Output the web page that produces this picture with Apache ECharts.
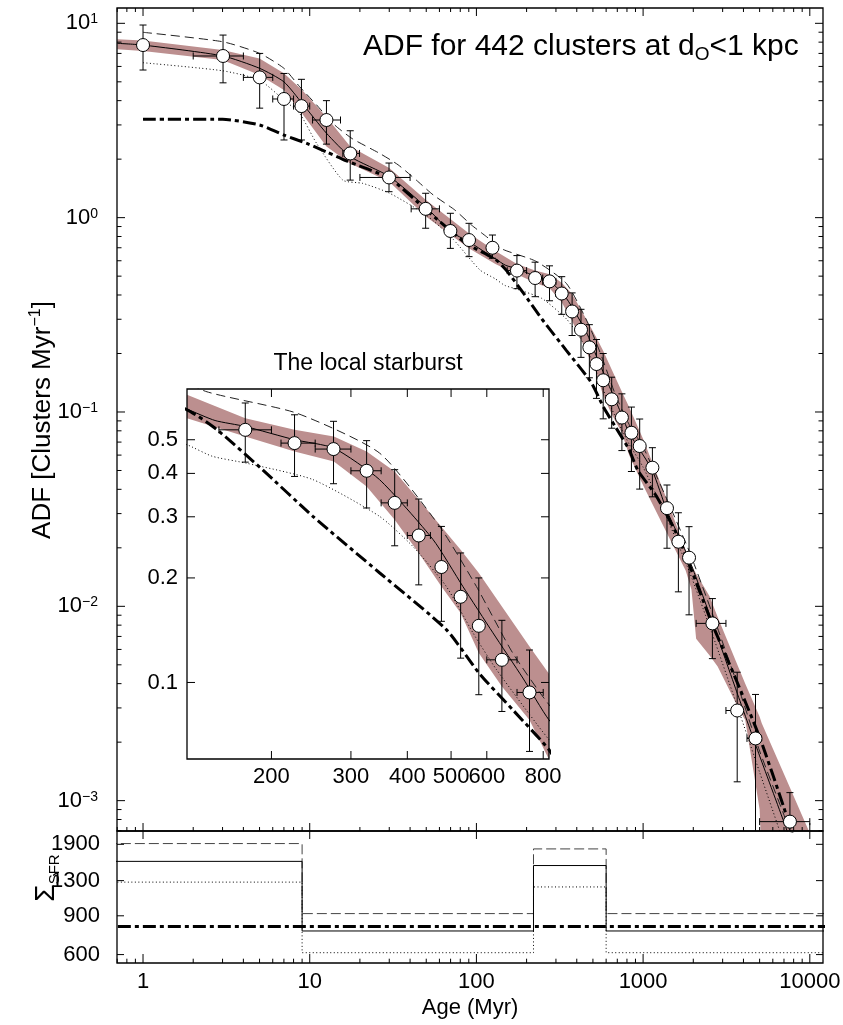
<!DOCTYPE html>
<html>
<head>
<meta charset="UTF-8">
<title>ADF for 442 clusters</title>
<script src="https://cdn.jsdelivr.net/npm/echarts@6/dist/echarts.min.js"></script>
<style>
  html, body { margin: 0; padding: 0; background: #fff; }
  #chart { width: 843px; height: 1025px; }
</style>
</head>
<body>
<div id="chart"></div>
<script>
var FONT = "'Liberation Sans', Arial, sans-serif";
var BAND = '#bc8f8f';

// axis ranges
var X_MIN = 0.698, X_MAX = 12000;
var Y_MIN = 6.98e-4, Y_MAX = 11.99;
var S_MIN = 549.5, S_MAX = 2184;
var IX_MIN = 130, IX_MAX = 824;
var IY_MIN = 0.0602, IY_MAX = 0.70;

// tick values
var xMajor = [1, 10, 100, 1000, 10000];
var yMajor = [0.001, 0.01, 0.1, 1, 10];
var sfrTicks = [600, 900, 1300, 1900];
var insetXTicks = [200, 300, 400, 500, 600, 800];
var insetYTicks = [0.1, 0.2, 0.3, 0.4, 0.5];

// data points (open circles) with error bars; 0 = no horizontal bar
var ptAge = [1.0, 3.02, 5.01, 7.01, 8.92, 12.6, 17.5, 29.9, 49.6, 69.8, 90.3, 124.8, 175, 225, 274.5, 325, 375, 424, 476, 525, 576, 648, 746, 851, 954, 1137, 1391, 1628, 1886, 2604, 3668, 4724, 7600];
var ptVal = [7.73, 6.79, 5.27, 4.08, 3.75, 3.18, 2.14, 1.61, 1.11, 0.854, 0.767, 0.70, 0.534, 0.489, 0.470, 0.407, 0.329, 0.265, 0.215, 0.1765, 0.1456, 0.1162, 0.0936, 0.0782, 0.0668, 0.0517, 0.0320, 0.0215, 0.0178, 0.00817, 0.00291, 0.00209, 0.00078];
var ptLo = [5.75, 4.94, 3.66, 2.51, 2.51, 2.39, 1.56, 1.36, 0.882, 0.695, 0.63, 0.618, 0.431, 0.392, 0.3735, 0.318, 0.2475, 0.191, 0.150, 0.1175, 0.0922, 0.0825, 0.0633, 0.0494, 0.0401, 0.0366, 0.0199, 0.01187, 0.00904, 0.00538, 0.00125, 0.0004, 0.0004];
var ptHi = [9.8, 8.7, 7.0, 5.52, 5.15, 4.0, 2.8, 1.91, 1.335, 1.053, 0.935, 0.814, 0.638, 0.590, 0.565, 0.497, 0.410, 0.3375, 0.2814, 0.236, 0.2, 0.151, 0.124, 0.106, 0.092, 0.0655, 0.0421, 0.0303, 0.0257, 0.01096, 0.00458, 0.00352, 0.0011];
var binLo = [0, 2.0, 4.0, 6.0, 8.0, 10.4, 15.8, 20, 40.6, 0, 0, 0, 153, 210, 250, 300, 350, 400, 0, 0, 0, 600, 700, 0, 0, 0, 0, 0, 0, 2080, 3140, 4200, 5000];
var binHi = [0, 4.0, 6.0, 8.0, 10.0, 15.3, 19.9, 40, 60, 0, 0, 0, 200, 250, 300, 350, 400, 450, 0, 0, 0, 700, 800, 0, 0, 0, 0, 0, 0, 3140, 3940, 5100, 10000];

// model curves
var solidAge = [0.7, 1, 3, 5, 7, 9, 12.6, 17.5, 30, 50, 70, 90, 130, 150, 175, 225, 275, 347, 456, 531, 619, 721, 824, 954, 1137, 1391, 1886, 2600, 3700, 5000, 7300, 9500];
var solidVal = [7.89, 7.73, 6.8, 5.87, 5.0, 3.88, 2.72, 2.06, 1.63, 1.13, 0.847, 0.752, 0.613, 0.568, 0.546, 0.5, 0.473, 0.384, 0.258, 0.189, 0.139, 0.103, 0.078, 0.064, 0.05, 0.031, 0.0175, 0.0083, 0.0035, 0.0017, 0.0007, 0.00035];
var dashedAge = [1, 3, 5, 7, 8.7, 11, 14.1, 18, 26.3, 33.9, 43.6, 55, 74.2, 93.3, 115, 143, 227, 347, 472, 569, 685, 824, 1000, 1400, 1900, 2600, 3700, 5000, 7600, 9500];
var dashedVal = [8.99, 8.04, 7.01, 5.87, 4.72, 3.8, 3.0, 2.55, 2.14, 1.87, 1.56, 1.31, 1.095, 0.917, 0.798, 0.689, 0.597, 0.458, 0.281, 0.189, 0.1215, 0.0863, 0.066, 0.035, 0.019, 0.0092, 0.0039, 0.0018, 0.0007, 0.0004];
var dottedAge = [1, 3, 5, 7, 8.7, 11, 15.8, 20.9, 30.2, 50.1, 72.4, 105, 130, 148, 176, 247, 347, 412, 488, 559, 630, 824, 1000, 1400, 1900, 2600, 3700, 5000, 7000, 9000];
var dottedVal = [6.27, 5.7, 5.1, 4.03, 3.44, 2.41, 1.56, 1.50, 1.335, 1.03, 0.775, 0.538, 0.484, 0.448, 0.428, 0.384, 0.301, 0.246, 0.189, 0.139, 0.109, 0.0684, 0.052, 0.028, 0.015, 0.0072, 0.003, 0.0014, 0.0006, 0.0003];
var dashDotAge = [1, 3, 5, 7, 9.6, 12.6, 16.6, 30.2, 50.1, 86.7, 130, 150.8, 191, 247, 347, 488, 578, 685, 824, 931, 1200, 1650, 2600, 3530, 5020, 6966, 9500];
var dashDotVal = [3.21, 3.21, 3.0, 2.66, 2.41, 2.18, 1.96, 1.59, 1.095, 0.738, 0.61, 0.537, 0.41, 0.301, 0.207, 0.142, 0.106, 0.0834, 0.064, 0.050, 0.037, 0.022, 0.0081, 0.0044, 0.0021, 0.00093, 0.0004];

// shaded band
var bandAge = [0.7, 1, 3, 5, 7, 9, 12.6, 17.5, 30, 50, 90, 130, 175, 225, 275, 325, 375, 424, 476, 525, 576, 648, 746, 824, 1000, 1400, 1800, 1950, 2080, 2500, 2800, 3800, 4100, 5000, 5150, 7000, 10400];
var bandHi = [8.27, 8.15, 7.29, 6.6, 5.53, 4.54, 3.3, 2.32, 1.80, 1.23, 0.831, 0.674, 0.577, 0.534, 0.511, 0.4626, 0.405, 0.336, 0.281, 0.241, 0.2066, 0.1656, 0.127, 0.106, 0.0726, 0.0348, 0.0195, 0.0163, 0.0147, 0.0113, 0.0088, 0.00467, 0.00399, 0.0027, 0.0025, 0.00137, 0.00063];
var bandLo = [7.35, 7.2, 6.47, 5.42, 4.54, 3.44, 2.32, 1.9, 1.53, 1.01, 0.695, 0.577, 0.511, 0.4626, 0.433, 0.367, 0.294, 0.236, 0.189, 0.1585, 0.1215, 0.0974, 0.078, 0.060, 0.042, 0.0235, 0.0153, 0.0122, 0.0068, 0.0056, 0.0049, 0.0029, 0.0026, 0.0009, 0.0005, 0.0003, 0.0003];

// star formation rate steps (bottom panel)
var sfrAge = [0.5, 9, 220, 600, 20000];
var sfrDashed = [1915, 921, 1811, 921, 921];
var sfrSolid = [1590, 768, 1522, 768, 768];
var sfrDotted = [1280, 612, 1217, 612, 612];
var sfrDashDot = [804, 804, 804, 804, 804];

function pairs(xs, ys) {
    return xs.map(function (x, i) { return [x, ys[i]]; });
}

function minorTicks(lo, hi) {
    var out = [];
    for (var k = -5; k <= 5; k++) {
        for (var m = 2; m <= 9; m++) {
            var v = m * Math.pow(10, k);
            if (v > lo && v < hi) out.push(v);
        }
    }
    return out;
}

function sideTicks(sides, vals, len) {
    var out = [];
    sides.forEach(function (s) {
        vals.forEach(function (v) { out.push([s, v, len]); });
    });
    return out;
}

var DASHED = {color: '#222', width: 1, type: [9, 5]};
var SOLID = {color: '#000', width: 1, type: 'solid'};
var DOTTED = {color: '#000', width: 1, type: [1, 2.5]};
var DASHDOT = {color: '#000', width: 3, type: [13, 4, 4, 4]};

function lineSeries(g, z, data, style, step) {
    return {
        type: 'line', xAxisIndex: g, yAxisIndex: g, z: z, data: data,
        symbol: 'none', silent: true, clip: true, step: step || false,
        smooth: step ? false : 0.2,
        lineStyle: style
    };
}

function bandSeries(g, z) {
    return {
        type: 'custom', xAxisIndex: g, yAxisIndex: g, z: z, clip: true, silent: true,
        data: bandAge.map(function (a, i) { return [a, bandHi[i], bandLo[i]]; }),
        encode: {x: 0, y: [1, 2]},
        renderItem: function (params, api) {
            if (params.dataIndex !== 0) return null;
            var pts = [];
            for (var i = 0; i < bandAge.length; i++) pts.push(api.coord([bandAge[i], bandHi[i]]));
            for (var j = bandAge.length - 1; j >= 0; j--) pts.push(api.coord([bandAge[j], bandLo[j]]));
            return {type: 'polygon', shape: {points: pts}, style: {fill: BAND}};
        }
    };
}

var errData = ptAge.map(function (a, i) {
    return [a, ptVal[i], ptLo[i], ptHi[i], binLo[i], binHi[i]];
});

function errSeries(g, z, cap) {
    return {
        type: 'custom', xAxisIndex: g, yAxisIndex: g, z: z, clip: true, silent: true,
        data: errData,
        encode: {x: 0, y: 1},
        renderItem: function (params, api) {
            var x = api.value(0), y = api.value(1);
            var lo = api.coord([x, api.value(2)]), hi = api.coord([x, api.value(3)]);
            var st = {stroke: '#000', lineWidth: 1};
            var kids = [
                {type: 'line', shape: {x1: lo[0], y1: lo[1], x2: hi[0], y2: hi[1]}, style: st},
                {type: 'line', shape: {x1: lo[0] - cap, y1: lo[1], x2: lo[0] + cap, y2: lo[1]}, style: st},
                {type: 'line', shape: {x1: hi[0] - cap, y1: hi[1], x2: hi[0] + cap, y2: hi[1]}, style: st}
            ];
            if (api.value(4) > 0) {
                var l = api.coord([api.value(4), y]), r = api.coord([api.value(5), y]);
                kids.push({type: 'line', shape: {x1: l[0], y1: l[1], x2: r[0], y2: r[1]}, style: st});
                kids.push({type: 'line', shape: {x1: l[0], y1: l[1] - cap, x2: l[0], y2: l[1] + cap}, style: st});
                kids.push({type: 'line', shape: {x1: r[0], y1: r[1] - cap, x2: r[0], y2: r[1] + cap}, style: st});
            }
            return {type: 'group', children: kids};
        }
    };
}

function pointSeries(g, z) {
    return {
        type: 'scatter', xAxisIndex: g, yAxisIndex: g, z: z, silent: true, clip: true,
        data: pairs(ptAge, ptVal), symbol: 'circle', symbolSize: 13,
        itemStyle: {color: '#fff', borderColor: '#000', borderWidth: 1, opacity: 1}
    };
}

// frame, ticks and custom tick labels of one grid
function decoSeries(g, z, xr, yr, ticks, labels) {
    return {
        type: 'custom', xAxisIndex: g, yAxisIndex: g, z: z, clip: false, silent: true,
        data: [[xr[0], yr[0]]],
        renderItem: function (params, api) {
            var a = api.coord([xr[0], yr[1]]), b = api.coord([xr[1], yr[0]]);
            var L = a[0], T = a[1], R = b[0], B = b[1];
            var st = {stroke: '#000', lineWidth: 1};
            var kids = [{type: 'rect', shape: {x: L, y: T, width: R - L, height: B - T},
                style: {stroke: '#000', lineWidth: 1.3, fill: 'none'}}];
            ticks.forEach(function (t) {
                if (t[0] === 'b' || t[0] === 't') {
                    var px = api.coord([t[1], yr[0]])[0];
                    var y0 = t[0] === 'b' ? B : T, d = t[0] === 'b' ? -t[2] : t[2];
                    kids.push({type: 'line', shape: {x1: px, y1: y0, x2: px, y2: y0 + d}, style: st});
                } else {
                    var py = api.coord([xr[0], t[1]])[1];
                    var x0 = t[0] === 'l' ? L : R, dx = t[0] === 'l' ? t[2] : -t[2];
                    kids.push({type: 'line', shape: {x1: x0, y1: py, x2: x0 + dx, y2: py}, style: st});
                }
            });
            labels.forEach(function (l) {
                var x, y, al;
                if (l[0] === 'y') {
                    x = L - l[3]; y = api.coord([xr[0], l[1]])[1]; al = 'right';
                } else {
                    x = api.coord([l[1], yr[0]])[0]; y = B + l[3]; al = 'center';
                }
                kids.push({type: 'text', x: x, y: y, style: {
                    text: l[2], fill: '#000', fontSize: 22, fontFamily: FONT,
                    textAlign: al, textVerticalAlign: 'middle', align: al, verticalAlign: 'middle'}});
            });
            return {type: 'group', children: kids};
        }
    };
}

var mainTicks = [].concat(
    sideTicks(['b', 't'], xMajor, 8), sideTicks(['b', 't'], minorTicks(X_MIN, X_MAX), 4),
    sideTicks(['l', 'r'], yMajor, 8), sideTicks(['l', 'r'], minorTicks(Y_MIN, Y_MAX), 4.5));
var sfrTickList = [].concat(
    sideTicks(['t'], xMajor, 8), sideTicks(['b'], xMajor, 9),
    sideTicks(['b'], minorTicks(X_MIN, X_MAX), 4.3), sideTicks(['l', 'r'], sfrTicks, 7));
var insetTickList = [].concat(
    sideTicks(['b', 't'], insetXTicks, 8), sideTicks(['l', 'r'], insetYTicks, 8));

var sfrLabels = sfrTicks.map(function (v) { return ['y', v, String(v), 17]; });
var insetLabels = insetYTicks.map(function (v) { return ['y', v, String(v), 9]; })
    .concat(insetXTicks.map(function (v) { return ['x', v, String(v), 18]; }));

function isPow10(v) {
    var lg = Math.log(v) / Math.LN10;
    return Math.abs(lg - Math.round(lg)) < 1e-6 ? Math.round(lg) : null;
}

function hiddenAxis(g, min, max) {
    return {gridIndex: g, type: 'log', min: min, max: max,
        axisLine: {show: false}, axisTick: {show: false}, axisLabel: {show: false},
        splitLine: {show: false}, minorTick: {show: false}};
}

var xMain = hiddenAxis(0, X_MIN, X_MAX);
var xSfr = hiddenAxis(1, X_MIN, X_MAX);
xSfr.axisLabel = {
    show: true, margin: 8, fontSize: 22, fontFamily: FONT, color: '#000',
    showMinLabel: true, showMaxLabel: true,
    formatter: function (v) {
        var e = isPow10(v);
        return e === null ? '' : String(Math.pow(10, e));
    }
};
var xInset = hiddenAxis(2, IX_MIN, IX_MAX);

var yMain = hiddenAxis(0, Y_MIN, Y_MAX);
yMain.axisLabel = {
    show: true, margin: 19, color: '#000',
    formatter: function (v) {
        var e = isPow10(v);
        if (e === null) return '';
        return '{b|10}{s|' + (e < 0 ? '\u2212' + (-e) : e) + '}';
    },
    rich: {
        b: {fontSize: 22, fontFamily: FONT, color: '#000'},
        s: {fontSize: 14, fontFamily: FONT, color: '#000', verticalAlign: 'top'}
    }
};
var ySfr = hiddenAxis(1, S_MIN, S_MAX);
var yInset = hiddenAxis(2, IY_MIN, IY_MAX);

var chart = echarts.init(document.getElementById('chart'), null, {renderer: 'canvas'});

var option = {
    animation: false,
    backgroundColor: '#fff',
    grid: [
        {left: 117, top: 8, width: 706, height: 823, show: false, containLabel: false, outerBoundsMode: 'none'},
        {left: 117, top: 831, width: 706, height: 132, show: false, containLabel: false, outerBoundsMode: 'none'},
        {left: 187, top: 389, width: 362, height: 370, show: true, backgroundColor: '#fff',
            borderWidth: 0, borderColor: 'transparent', z: 7, containLabel: false, outerBoundsMode: 'none'}
    ],
    xAxis: [xMain, xSfr, xInset],
    yAxis: [yMain, ySfr, yInset],
    graphic: [
        {type: 'text', x: 363, y: 47, z: 20, style: {
            text: '{a|ADF for 442 clusters at d}{o|O}{a|<1 kpc}',
            textAlign: 'left', textVerticalAlign: 'middle', align: 'left', verticalAlign: 'middle',
            rich: {
                a: {fontSize: 30, fontFamily: FONT, fill: '#000', color: '#000', lineHeight: 35},
                o: {fontSize: 19, fontFamily: FONT, fill: '#000', color: '#000', lineHeight: 21, verticalAlign: 'bottom'}
            }}},
        {type: 'text', x: 43, y: 420, rotation: Math.PI / 2, z: 20, style: {
            text: '{a|ADF [Clusters Myr}{s|\u22121}{a|]}',
            textAlign: 'center', textVerticalAlign: 'middle', align: 'center', verticalAlign: 'middle',
            rich: {
                a: {fontSize: 26, fontFamily: FONT, fill: '#000', color: '#000', lineHeight: 30},
                s: {fontSize: 16, fontFamily: FONT, fill: '#000', color: '#000', lineHeight: 17, verticalAlign: 'top'}
            }}},
        {type: 'text', x: 46, y: 878, rotation: Math.PI / 2, z: 20, style: {
            text: '{g|\u03a3}{s|SFR}',
            textAlign: 'center', textVerticalAlign: 'middle', align: 'center', verticalAlign: 'middle',
            rich: {
                g: {fontSize: 28, fontFamily: FONT, fill: '#000', color: '#000', lineHeight: 32},
                s: {fontSize: 15, fontFamily: FONT, fill: '#000', color: '#000', lineHeight: 16, verticalAlign: 'bottom'}
            }}},
        {type: 'text', x: 470, y: 1008, z: 20, style: {
            text: 'Age (Myr)', fontSize: 22, fontFamily: FONT, fill: '#000',
            textAlign: 'center', textVerticalAlign: 'middle', align: 'center', verticalAlign: 'middle'}},
        {type: 'text', x: 368, y: 364, z: 20, style: {
            text: 'The local starburst', fontSize: 23, fontFamily: FONT, fill: '#000',
            textAlign: 'center', textVerticalAlign: 'middle', align: 'center', verticalAlign: 'middle'}}
    ],
    series: [
        // main panel
        bandSeries(0, 2),
        lineSeries(0, 3, pairs(dottedAge, dottedVal), DOTTED),
        lineSeries(0, 3, pairs(dashedAge, dashedVal), DASHED),
        lineSeries(0, 3, pairs(dashDotAge, dashDotVal), DASHDOT),
        lineSeries(0, 3, pairs(solidAge, solidVal), SOLID),
        errSeries(0, 4, 3.5),
        pointSeries(0, 5),
        decoSeries(0, 6, [X_MIN, X_MAX], [Y_MIN, Y_MAX], mainTicks, []),
        // SFR panel
        lineSeries(1, 3, pairs(sfrAge, sfrDotted), DOTTED, 'end'),
        lineSeries(1, 3, pairs(sfrAge, sfrDashed), {color: '#444', width: 1, type: [10, 4]}, 'end'),
        lineSeries(1, 3, pairs(sfrAge, sfrSolid), SOLID, 'end'),
        lineSeries(1, 3, pairs(sfrAge, sfrDashDot), DASHDOT, 'end'),
        decoSeries(1, 6, [X_MIN, X_MAX], [S_MIN, S_MAX], sfrTickList, sfrLabels),
        // inset
        bandSeries(2, 8),
        lineSeries(2, 9, pairs(dottedAge, dottedVal), DOTTED),
        lineSeries(2, 9, pairs(dashedAge, dashedVal), DASHED),
        lineSeries(2, 9, pairs(dashDotAge, dashDotVal), DASHDOT),
        lineSeries(2, 9, pairs(solidAge, solidVal), SOLID),
        errSeries(2, 10, 3.5),
        pointSeries(2, 11),
        decoSeries(2, 12, [IX_MIN, IX_MAX], [IY_MIN, IY_MAX], insetTickList, insetLabels)
    ]
};

chart.setOption(option);
</script>
</body>
</html>
